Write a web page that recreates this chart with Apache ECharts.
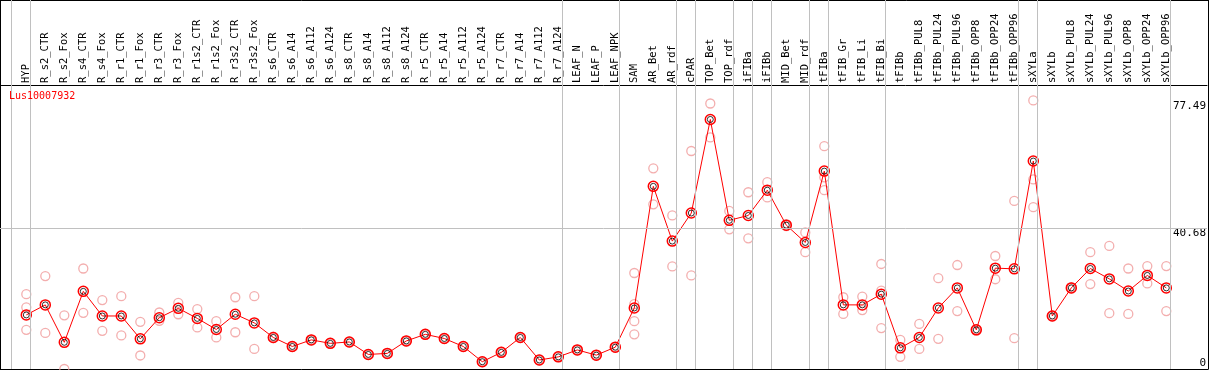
<!DOCTYPE html>
<html><head><meta charset="utf-8">
<script src="https://cdn.jsdelivr.net/npm/echarts@6/dist/echarts.min.js"></script>
<style>html,body{margin:0;padding:0;background:#fff}#c{width:1209px;height:370px}</style>
</head><body><div id="c"></div>
<script>
// ---------------- data ----------------
const geneName = 'Lus10007932';
const categories = ['HYP','R_s2_CTR','R_s2_Fox','R_s4_CTR','R_s4_Fox','R_r1_CTR','R_r1_Fox','R_r3_CTR','R_r3_Fox','R_r1s2_CTR','R_r1s2_Fox','R_r3s2_CTR','R_r3s2_Fox','R_s6_CTR','R_s6_A14','R_s6_A112','R_s6_A124','R_s8_CTR','R_s8_A14','R_s8_A112','R_s8_A124','R_r5_CTR','R_r5_A14','R_r5_A112','R_r5_A124','R_r7_CTR','R_r7_A14','R_r7_A112','R_r7_A124','LEAF_N','LEAF_P','LEAF_NPK','SAM','AR_Bet','AR_rdf','cPAR','TOP_Bet','TOP_rdf','iFIBa','iFIBb','MID_Bet','MID_rdf','tFIBa','tFIB_Gr','tFIB_Li','tFIB_Bi','tFIBb','tFIBb_PUL8','tFIBb_PUL24','tFIBb_PUL96','tFIBb_OPP8','tFIBb_OPP24','tFIBb_OPP96','sXYLa','sXYLb','sXYLb_PUL8','sXYLb_PUL24','sXYLb_PUL96','sXYLb_OPP8','sXYLb_OPP24','sXYLb_OPP96'];
const meanValues = [15.6,18.5,7.7,22.4,15.3,15.3,8.7,14.8,17.5,14.6,11.4,15.8,13.3,
  9.1,6.5,8.4,7.4,7.8,4.2,4.5,8.1,10.0,8.8,6.5,2.1,4.8,9.1,2.6,3.5,5.5,4.0,6.3,
  17.6,52.7,36.9,45.0,72.0,42.9,44.3,51.6,41.5,36.5,57.1,18.5,18.5,21.6,6.1,9.1,17.6,23.4,11.3,29.1,28.9,60.0,15.3,23.4,29.0,26.0,22.5,27.0,23.4];
const replicateValues = [
  [21.6,17.8,11.3],[26.8,10.4],[15.5,0.0],[29.0,16.2],[19.9,11.0],[21.0,9.7],[13.6,3.9],[16.3,13.9],[19.1,15.8],[17.3,12.0],
  [13.8,9.1],[20.7,10.6],[21.0,5.8],[9.3,8.9],[6.6,6.4],[8.5,8.3],[7.5,7.3],[7.9,7.7],[4.3,4.1],[4.6,4.4],
  [8.2,8.0],[10.1,9.9],[8.9,8.7],[6.6,6.4],[2.2,2.0],[4.9,4.7],[9.2,9.0],[2.7,2.5],[3.6,3.4],[5.6,5.4],
  [4.1,3.9],[6.4,6.2],[27.7,18.7,13.8,10.0],[57.9,47.5],[44.3,29.6],[62.9,27.0],[76.6,66.8],[45.6,40.3],[51.0,37.7],[53.9,49.5],
  [41.8,41.2],[39.4,33.7],[64.3,55.3,51.6],[20.7,15.9],[20.9,17.0],[30.3,22.6,11.8],[8.4,3.5],[13.0,5.8],[26.2,8.7],[30.0,16.7],
  [11.4,11.1],[32.6,25.9],[48.5,8.9],[77.49,54.7,46.7],[15.4,15.2],[23.6,23.3],[33.7,24.5],[35.5,16.1],[29.0,15.9],[29.7,24.7],
  [29.7,16.7]
];
// index of the last category in each group (separator drawn right after it)
const groupEnds = [-1,0,28,31,34,35,37,38,39,41,42,45,52,53,60];
const yTickValues = [0, 40.68, 77.49];
const refLineValue = 40.68;

// ---------------- layout ----------------
const W = 1209, PLOT_TOP = 85, STEP = 19, FIRST_X = 26.3, Y_MAX = 81.94;
const SEP_OFFSET = 0.21;
const mono = 'DejaVu Sans Mono';

const repData = [];
replicateValues.forEach((arr, i) => arr.forEach(v => repData.push([i, v])));

const chart = echarts.init(document.getElementById('c'), null, {renderer: 'canvas'});
const hidden = {show: false};
chart.setOption({
  animation: false,
  backgroundColor: '#fff',
  title: {text: geneName, left: 9, top: 91, padding: 0,
    textStyle: {color: '#ff0000', fontSize: 10, fontWeight: 'normal', fontFamily: mono}},
  grid: [
    {left: 0, right: 1, top: 0, bottom: 1},
    {left: FIRST_X - STEP / 2, width: categories.length * STEP, top: PLOT_TOP, bottom: 1},
    {left: 0, right: 1, top: PLOT_TOP, bottom: 1}
  ],
  xAxis: [
    {type: 'value', gridIndex: 0, position: 'top', min: -FIRST_X / STEP, max: (W - 1 - FIRST_X) / STEP,
      axisLine: {show: true, onZero: false, lineStyle: {color: '#000', width: 1}}, axisTick: hidden, axisLabel: hidden, splitLine: hidden},
    {type: 'value', gridIndex: 0, position: 'bottom', min: 0, max: 1,
      axisLine: {show: true, onZero: false, lineStyle: {color: '#000', width: 1}}, axisTick: hidden, axisLabel: hidden, splitLine: hidden},
    {type: 'category', gridIndex: 1, position: 'top', data: categories, boundaryGap: true,
      axisLine: hidden, axisTick: hidden, splitLine: hidden,
      axisLabel: {interval: 0, rotate: 90, margin: 2, fontSize: 10.5, fontFamily: mono, color: '#000'}},
    {type: 'value', gridIndex: 2, position: 'top', min: 0, max: 1,
      axisLine: {show: true, onZero: false, lineStyle: {color: '#000', width: 1}}, axisTick: hidden, axisLabel: hidden, splitLine: hidden}
  ],
  yAxis: [
    {type: 'value', gridIndex: 0, position: 'left', min: 0, max: 1,
      axisLine: {show: true, onZero: false, lineStyle: {color: '#000'}}, axisTick: hidden, axisLabel: hidden, splitLine: hidden},
    {type: 'value', gridIndex: 0, position: 'right', min: 0, max: 1,
      axisLine: {show: true, onZero: false, lineStyle: {color: '#000'}}, axisTick: hidden, axisLabel: hidden, splitLine: hidden},
    {type: 'value', gridIndex: 1, min: 0, max: Y_MAX, show: false},
    {type: 'value', gridIndex: 2, position: 'right', min: 0, max: Y_MAX,
      axisLine: hidden, axisTick: hidden, splitLine: hidden,
      axisLabel: {inside: true, margin: 1, fontSize: 11, fontFamily: mono, color: '#000', verticalAlign: 'top',
        customValues: yTickValues.filter(v => v > 0), formatter: v => String(v)}},
    {type: 'value', gridIndex: 2, position: 'right', min: 0, max: Y_MAX,
      axisLine: hidden, axisTick: hidden, splitLine: hidden,
      axisLabel: {inside: true, margin: 1, fontSize: 11, fontFamily: mono, color: '#000', verticalAlign: 'bottom',
        customValues: yTickValues.filter(v => v === 0), formatter: v => String(v)}}
  ],
  series: [
    {type: 'line', xAxisIndex: 0, yAxisIndex: 0, data: [], silent: true, z: 1,
      markLine: {silent: true, symbol: ['none', 'none'], label: hidden,
        lineStyle: {color: '#c0c0c0', type: 'solid', width: 1},
        data: groupEnds.map(g => ({xAxis: g + SEP_OFFSET}))}},
    {type: 'line', xAxisIndex: 3, yAxisIndex: 3, data: [], silent: true, z: 1,
      markLine: {silent: true, symbol: ['none', 'none'], label: hidden,
        lineStyle: {color: '#c0c0c0', type: 'solid', width: 1},
        data: [{yAxis: refLineValue}]}},
    {type: 'scatter', xAxisIndex: 2, yAxisIndex: 2, data: repData, symbol: 'circle', symbolSize: 9, z: 2,
      itemStyle: {color: 'rgba(0,0,0,0)', borderColor: '#f09a9a', borderWidth: 1.3}},
    {type: 'line', xAxisIndex: 2, yAxisIndex: 2, data: meanValues, symbol: 'circle', symbolSize: 10, z: 3,
      lineStyle: {color: '#ff0000', width: 1},
      itemStyle: {color: 'rgba(0,0,0,0)', borderColor: '#ff0000', borderWidth: 1.5}},
    {type: 'scatter', xAxisIndex: 2, yAxisIndex: 2, data: meanValues, symbol: 'circle', symbolSize: 6, z: 4,
      itemStyle: {color: 'rgba(0,0,0,0)', borderColor: '#000', borderWidth: 1}}
  ]
});
</script></body></html>
